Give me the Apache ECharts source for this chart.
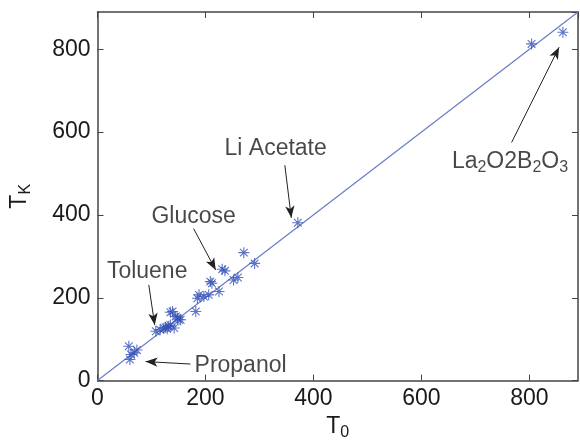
<!DOCTYPE html>
<html>
<head>
<meta charset="utf-8">
<script src="https://cdn.jsdelivr.net/npm/echarts@6/dist/echarts.min.js"></script>
<style>
  html, body { margin: 0; padding: 0; background: #fff; }
  #chart { width: 580px; height: 446px; }
</style>
</head>
<body>
<div id="chart"></div>
<script>
// measured points (T0, TK)
var t0 = [58, 73, 62, 60, 68, 108, 116, 126, 129, 135, 142, 151, 135, 145, 123, 132, 139, 148, 154,
          182, 185, 188, 197, 206, 209, 212, 225, 231, 236, 252, 260, 271, 291, 371, 804, 862];
var tk = [83, 74, 63, 51, 67, 119, 123, 129, 125, 134, 127, 147, 165, 155, 127, 131, 167, 151, 147,
          167, 199, 207, 203, 207, 239, 235, 215, 269, 265, 243, 249, 309, 283, 381, 813, 841];

// y = x reference line
var fitLine = [[0, 0], [890, 890]];

var xTicks = [0, 200, 400, 600, 800];
var yTicks = [0, 200, 400, 600, 800];

// annotations: text centre, arrow tail, arrow tip (data units)
var noteText = ['Li Acetate', 'Glucose', 'Toluene', 'Propanol', 'La{s|2}O2B{s|2}O{s|3}'];
var notePos  = [[330, 560], [178, 396], [92, 264], [265, 35], [764, 528]];
var arrowFrom = [[347, 520], [178, 367], [95, 231], [172, 40], [767, 575]];
var arrowTo   = [[359, 393], [219, 267], [106, 134], [89, 46], [855, 805]];

var axisColor = '#444';
var textColor = '#1a1a1a';
var markColor = '#3451b8';
var fontFam = '"Liberation Sans", Arial, sans-serif';

// asterisk marker (MATLAB '*')
var star = 'path://M9,0H11V20H9Z M0,9H20V11H0Z ' +
    'M3.71,2.29L17.71,16.29L16.29,17.71L2.29,3.71Z ' +
    'M17.71,3.71L3.71,17.71L2.29,16.29L16.29,2.29Z';

var pts = t0.map(function (v, i) { return [v, tk[i]]; });
var notes = noteText.map(function (t, i) { return { value: notePos[i], name: t }; });
var arrows = arrowFrom.map(function (a, i) {
    return [{ coord: a }, { coord: arrowTo[i] }];
});

var subStyle = { fontSize: 16, padding: [12, 0, 0, 0], fontFamily: fontFam, color: textColor };

function mainAxis(name, ticks) {
    return {
        type: 'value',
        min: 0,
        max: 890,
        interval: 200,
        name: name,
        nameLocation: 'middle',
        nameTextStyle: {
            fontSize: 23, fontFamily: fontFam, color: textColor,
            rich: { s: subStyle }
        },
        axisLine: { show: true, lineStyle: { color: axisColor, width: 1.5 } },
        axisTick: { show: true, inside: true, length: 6, lineStyle: { color: axisColor } },
        axisLabel: {
            fontSize: 23, fontFamily: fontFam, color: textColor, margin: 7,
            showMaxLabel: false,
            formatter: function (v) { return ticks.indexOf(v) >= 0 ? String(v) : ''; }
        },
        splitLine: { show: false }
    };
}

function boxAxis(pos) {
    return {
        type: 'value',
        position: pos,
        min: 0,
        max: 890,
        interval: 200,
        axisLine: { show: true, onZero: false, lineStyle: { color: axisColor, width: 1.5 } },
        axisTick: { show: true, inside: true, length: 6, lineStyle: { color: axisColor } },
        axisLabel: { show: false },
        splitLine: { show: false }
    };
}

var xMain = mainAxis('T{s|0}', xTicks);
xMain.nameGap = 28;
var yMain = mainAxis('T{s|K}', yTicks);
yMain.nameGap = 64;
yMain.nameRotate = 90;

var chart = echarts.init(document.getElementById('chart'));
chart.setOption({
    animation: false,
    grid: { left: 97, right: 2, top: 12, bottom: 63 },
    xAxis: [xMain, boxAxis('top')],
    yAxis: [yMain, boxAxis('right')],
    series: [
        {
            type: 'line',
            data: fitLine,
            symbol: 'none',
            lineStyle: { color: '#6a7cc6', width: 1.2 },
            z: 1
        },
        {
            type: 'scatter',
            data: pts,
            symbol: star,
            symbolSize: 11,
            itemStyle: { color: markColor },
            z: 3
        },
        {
            type: 'scatter',
            data: notes,
            symbolSize: 1,
            itemStyle: { color: 'transparent' },
            label: {
                show: true,
                position: 'inside',
                formatter: '{b}',
                fontSize: 23,
                fontFamily: fontFam,
                color: textColor,
                rich: { s: subStyle }
            },
            markLine: {
                silent: true,
                symbol: ['none', 'arrow'],
                symbolSize: [7, 12],
                label: { show: false },
                lineStyle: { color: '#222', width: 1, type: 'solid' },
                data: arrows
            },
            z: 4
        }
    ]
});
</script>
</body>
</html>
